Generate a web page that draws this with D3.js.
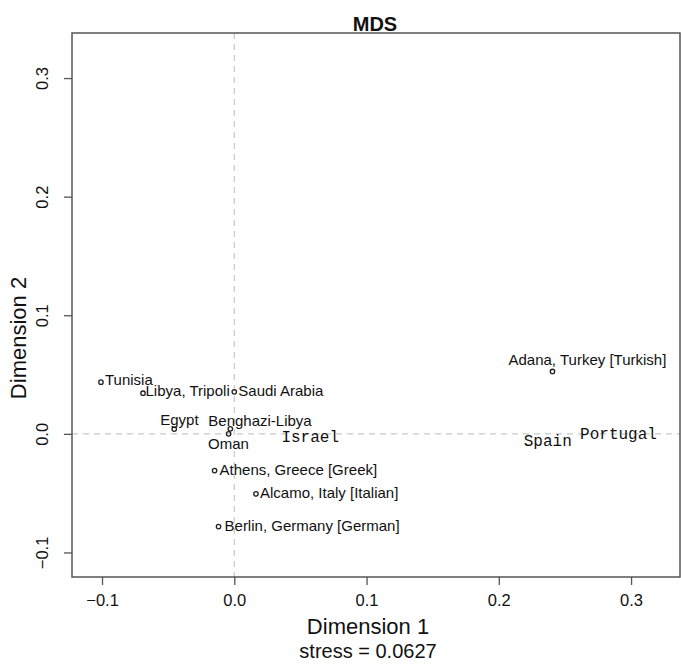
<!DOCTYPE html>
<html>
<head>
<meta charset="utf-8">
<script src="https://cdn.jsdelivr.net/npm/d3@7"></script>
<style>
html,body{margin:0;padding:0;background:#fff;}
svg{display:block;}
</style>
</head>
<body>
<svg id="chart" width="681" height="664"></svg>
<script>
// ---- data ----
const names = ["Tunisia","Libya, Tripoli","Saudi Arabia","Egypt","Benghazi-Libya","Oman",
  "Athens, Greece [Greek]","Alcamo, Italy [Italian]","Berlin, Germany [German]","Adana, Turkey [Turkish]",
  "Israel","Spain","Portugal"];
const dim1 = [-0.1008,-0.069,0.000,-0.0454,-0.003,-0.0043,-0.0149,0.0164,-0.0119,0.2406,0.0574,0.237,0.2905];
const dim2 = [0.0436,0.0343,0.0354,0.0040,0.0042,0.0000,-0.0310,-0.0506,-0.0782,0.0526,-0.0023,-0.0059,0.0000];
const kind = ["point","point","point","point","point","point","point","point","point","point","text","text","text"];
const xTicks = [-0.1,0.0,0.1,0.2,0.3];
const yTicks = [-0.1,0.0,0.1,0.2,0.3];
const title = "MDS";
const xTitle = "Dimension 1";
const yTitle = "Dimension 2";
const subTitle = "stress = 0.0627";

// ---- layout (label offsets in px relative to point) ----
const labelOffsets = [[4,-2],[2.5,-2],[4,-1],[-14,-9],[-22,-8],[-20.5,10],[5,-1],[4,-1],[6,-1],[-44,-12],[0,0],[0,0],[0,0]];

const svg = d3.select("#chart");
const L=72,R=680,T=33,B=577;
const x = d3.scaleLinear().domain([-0.1227,0.337]).range([L,R]);
const y = d3.scaleLinear().domain([-0.1207,0.338]).range([B,T]);
const sans = "'Liberation Sans', Arial, Helvetica, sans-serif";
const mono = "'Liberation Mono', 'Courier New', Courier, monospace";

// reference lines
svg.append("line").attr("x1",x(0)).attr("x2",x(0)).attr("y1",T).attr("y2",B)
  .attr("stroke","#c8c8c8").attr("stroke-width",1.2).attr("stroke-dasharray","6,5");
svg.append("line").attr("x1",L).attr("x2",R).attr("y1",y(0)).attr("y2",y(0))
  .attr("stroke","#c8c8c8").attr("stroke-width",1.2).attr("stroke-dasharray","6,5");

// axes
const xAxis = d3.axisBottom(x).tickValues(xTicks).tickFormat(d3.format(".1f")).tickSize(8).tickSizeOuter(0);
const gx = svg.append("g").attr("transform",`translate(0,${B})`).call(xAxis);
gx.select(".domain").remove();
gx.selectAll(".tick line").attr("stroke","#555").attr("stroke-width",1.3);
gx.selectAll(".tick text").attr("font-family",sans).attr("font-size",16.5).attr("fill","#111").attr("dy","1.1em");

const yAxis = d3.axisLeft(y).tickValues(yTicks).tickFormat(d3.format(".1f")).tickSize(8).tickSizeOuter(0);
const gy = svg.append("g").attr("transform",`translate(${L},0)`).call(yAxis);
gy.select(".domain").remove();
gy.selectAll(".tick line").attr("stroke","#555").attr("stroke-width",1.3);
gy.selectAll(".tick text").attr("font-family",sans).attr("font-size",16.5).attr("fill","#111")
  .attr("text-anchor","middle").attr("x",0).attr("dy",0)
  .attr("transform","translate(-24,0) rotate(-90)");

// box
svg.append("rect").attr("x",L).attr("y",T).attr("width",R-L).attr("height",B-T)
  .attr("fill","none").attr("stroke","#555").attr("stroke-width",1.5);

// points
const idx = d3.range(names.length);
svg.append("g").selectAll("circle").data(idx.filter(i=>kind[i]==="point")).join("circle")
  .attr("cx",i=>x(dim1[i])).attr("cy",i=>y(dim2[i])).attr("r",2.2)
  .attr("fill","none").attr("stroke","#222").attr("stroke-width",1.3);

// labels
svg.append("g").selectAll("text").data(idx).join("text")
  .attr("x",i=>x(dim1[i])+labelOffsets[i][0])
  .attr("y",i=>y(dim2[i])+labelOffsets[i][1])
  .attr("dy","0.35em")
  .attr("text-anchor",i=>kind[i]==="point"?"start":"middle")
  .attr("font-family",i=>kind[i]==="point"?sans:mono)
  .attr("font-size",i=>kind[i]==="point"?15:16)
  .attr("fill","#111")
  .text(i=>names[i]);

// titles
svg.append("text").attr("x",375).attr("y",24).attr("dy","0.35em").attr("text-anchor","middle")
  .attr("font-family",sans).attr("font-weight","bold").attr("font-size",20).attr("fill","#111").text(title);
svg.append("text").attr("x",368).attr("y",626).attr("dy","0.35em").attr("text-anchor","middle")
  .attr("font-family",sans).attr("font-size",22).attr("fill","#111").text(xTitle);
svg.append("text").attr("x",368).attr("y",651).attr("dy","0.35em").attr("text-anchor","middle")
  .attr("font-family",sans).attr("font-size",20).attr("fill","#111").text(subTitle);
svg.append("text").attr("transform","translate(18,338) rotate(-90)").attr("dy","0.35em").attr("text-anchor","middle")
  .attr("font-family",sans).attr("font-size",22).attr("fill","#111").text(yTitle);
</script>
</body>
</html>
